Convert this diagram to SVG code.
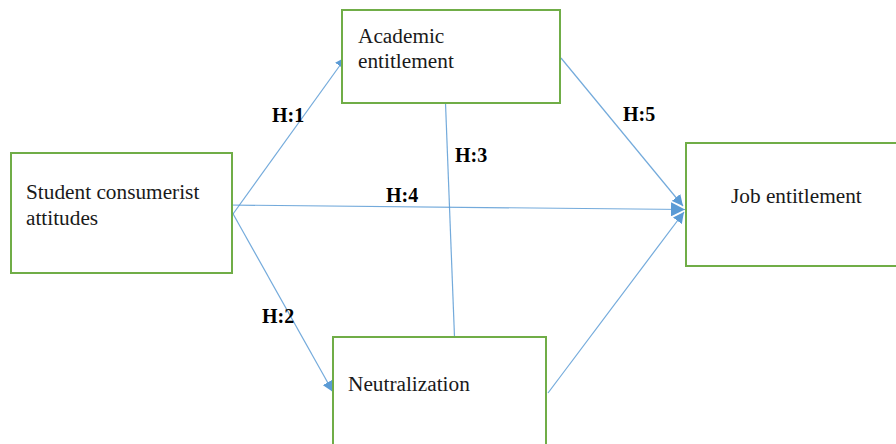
<svg xmlns="http://www.w3.org/2000/svg" width="896" height="444" viewBox="0 0 896 444">
<style>
.box{fill:#fff;stroke:#70AD47;stroke-width:2}
.lbl{font-family:"Liberation Serif","Times New Roman",serif;font-size:21.3px;fill:#1a1a1a}
.h{font-family:"Liberation Serif","Times New Roman",serif;font-size:20px;font-weight:bold;fill:#000}
.c{stroke:#5B9BD5;stroke-width:1.2;fill:none;stroke-opacity:0.85}
</style>
<defs>
<marker id="ah" viewBox="0 0 10 10" refX="10" refY="5" markerWidth="11" markerHeight="11" markerUnits="userSpaceOnUse" orient="auto">
<path d="M0,0 L10,5 L0,10 z" fill="#5B9BD5"/>
</marker>
<marker id="ahb" viewBox="0 0 10 10" refX="10" refY="5" markerWidth="14" markerHeight="14" markerUnits="userSpaceOnUse" orient="auto">
<path d="M0,0 L10,5 L0,10 z" fill="#5B9BD5"/>
</marker>
</defs>
<rect width="896" height="444" fill="#fff"/>
<g id="connectors">
<line class="c" x1="233" y1="214" x2="346" y2="57" marker-end="url(#ah)"/>
<line class="c" x1="232" y1="212" x2="333" y2="392" marker-end="url(#ah)"/>
<line class="c" x1="227" y1="205" x2="685" y2="209.5" stroke-width="2" marker-end="url(#ahb)"/>
<line class="c" x1="445.5" y1="103" x2="454.5" y2="337"/>
<line class="c" x1="561" y1="58" x2="683" y2="206" marker-end="url(#ah)"/>
<line class="c" x1="548" y1="393" x2="684" y2="212" marker-end="url(#ah)"/>
</g>
<g id="labels">
<text class="h" x="272" y="122">H:1</text>
<text class="h" x="262" y="323">H:2</text>
<text class="h" x="455" y="162">H:3</text>
<text class="h" x="386" y="202">H:4</text>
<text class="h" x="623" y="121">H:5</text>
</g>
<g id="node-student">
<rect class="box" x="11" y="153" width="221" height="120"/>
<text class="lbl" x="26" y="199">Student consumerist</text>
<text class="lbl" x="26" y="225">attitudes</text>
</g>
<g id="node-academic">
<rect class="box" x="342" y="10" width="218" height="93"/>
<text class="lbl" x="358" y="43">Academic</text>
<text class="lbl" x="358" y="68">entitlement</text>
</g>
<g id="node-job">
<rect class="box" x="686" y="143" width="220" height="123"/>
<text class="lbl" x="731" y="203">Job entitlement</text>
</g>
<g id="node-neutralization">
<rect class="box" x="333" y="337" width="213" height="120"/>
<text class="lbl" x="348" y="391">Neutralization</text>
</g>
</svg>
